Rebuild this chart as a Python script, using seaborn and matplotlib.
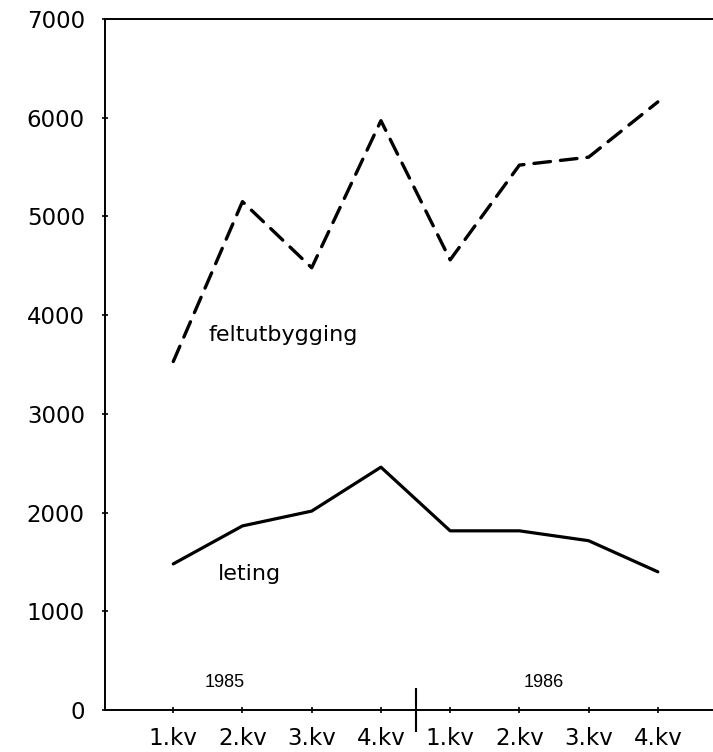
import matplotlib
matplotlib.use("Agg")
import matplotlib.pyplot as plt
import seaborn as sns
import pandas as pd

quarters = ["1.kv", "2.kv", "3.kv", "4.kv", "1.kv", "2.kv", "3.kv", "4.kv"]
years = ["1985", "1986"]
feltutbygging = [3530, 5150, 4480, 5970, 4560, 5520, 5600, 6160]
leting = [1480, 1865, 2015, 2460, 1815, 1815, 1715, 1400]
series_names = ["feltutbygging", "leting"]

sns.set_theme(style="white")
plt.rcParams["font.family"] = ["DejaVu Sans"]
plt.rcParams["text.color"] = "black"

df = pd.DataFrame({
    "pos": list(range(len(quarters))),
    "feltutbygging": feltutbygging,
    "leting": leting,
})

fig = plt.figure(figsize=(7.13, 7.52), dpi=100)
ax = fig.add_axes([105 / 713, 1 - 710 / 752, 1 - 105 / 713 + 0.01, (710 - 19) / 752])

sns.lineplot(data=df, x="pos", y="feltutbygging", ax=ax, color="black",
             linewidth=2.4, linestyle=(0, (5, 3)), dash_capstyle="round")
sns.lineplot(data=df, x="pos", y="leting", ax=ax, color="black",
             linewidth=2.3, solid_joinstyle="round")

ax.set_xlim(-0.986, 7.9)
ax.set_ylim(0, 7000)
ax.set_yticks(range(0, 7001, 1000))
ax.set_yticklabels([str(v) for v in range(0, 7001, 1000)])
ax.set_xticks(range(len(quarters)))
ax.set_xticklabels(quarters)
ax.set_xticks([3.5], minor=True)

ax.set_xlabel("")
ax.set_ylabel("")

ax.spines["right"].set_visible(False)
for side in ["left", "top", "bottom"]:
    ax.spines[side].set_visible(True)
    ax.spines[side].set_color("black")
    ax.spines[side].set_linewidth(1.4)

ax.tick_params(axis="both", which="major", direction="inout", length=5,
               width=1.2, color="black", labelcolor="black")
ax.tick_params(axis="y", which="major", pad=12, left=True, labelsize=16.5)
ax.tick_params(axis="x", which="major", pad=10, bottom=True, labelsize=16.5)
ax.tick_params(axis="x", which="minor", direction="inout", length=31,
               width=1.5, color="black", bottom=True)

ax.text(0.507, 3800, series_names[0], fontsize=16, ha="left", va="center",
        color="black")
ax.text(0.64, 1378, series_names[1], fontsize=16, ha="left", va="center",
        color="black")
ax.text(0.75, 274, years[0], fontsize=13, ha="center", va="center",
        family=["Liberation Sans"], color="black")
ax.text(5.35, 274, years[1], fontsize=13, ha="center", va="center",
        family=["Liberation Sans"], color="black")

fig.savefig("out.png", dpi=100, facecolor="white")
